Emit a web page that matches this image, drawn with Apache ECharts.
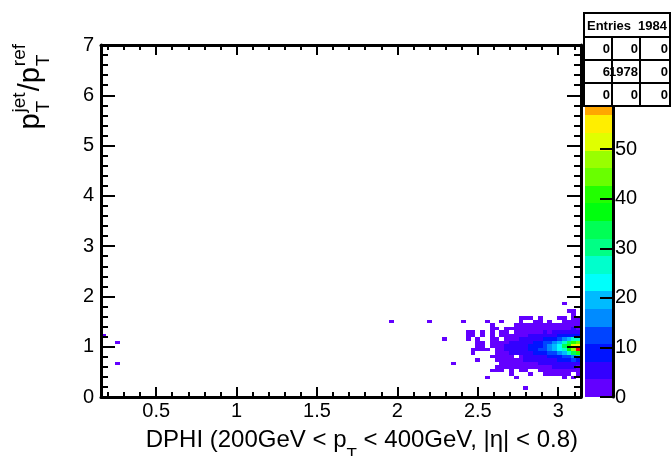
<!DOCTYPE html>
<html><head><meta charset="utf-8">
<script src="https://cdn.jsdelivr.net/npm/echarts@6/dist/echarts.min.js"></script>
<style>html,body{margin:0;padding:0;background:#fff}#c{width:672px;height:456px}</style>
</head><body><div id="c"></div>
<script>
// ---- histogram binning ----
const xMin = 0.157, xMax = 3.1416, nBinsX = 100;
const yMin = 0, yMax = 7, nBinsY = 100;
const zMax = 71, nContours = 20;
// ---- bin contents: rows of counts for x-bins 73..99, keyed by y-bin ----
const firstCol = 73;
const countRows = [
  [26, [0,0,0,0,0,0,0,0,0,0,0,0,0,0,0,0,0,0,0,0,0,0,0,1,0,0,0]],
  [24, [0,0,0,0,0,0,0,0,0,0,0,0,0,0,0,0,0,0,0,0,0,0,0,0,1,1,0]],
  [23, [0,0,0,0,0,0,0,0,0,0,0,0,0,0,0,0,0,0,0,0,0,0,0,0,0,1,0]],
  [22, [0,0,0,0,0,0,0,0,0,0,0,0,0,0,1,1,1,0,1,0,0,0,1,1,0,1,1]],
  [21, [0,0,1,0,0,0,0,1,0,0,1,0,0,0,1,0,0,1,1,0,1,0,0,1,1,2,1]],
  [20, [0,0,0,0,0,0,0,0,1,0,0,0,0,1,1,1,2,1,1,1,2,1,1,1,2,1,2]],
  [19, [0,0,0,0,0,0,0,0,1,1,0,1,1,2,1,2,1,3,2,2,3,2,3,2,3,4,3]],
  [18, [0,0,0,1,1,0,1,0,1,0,1,1,0,1,2,3,2,3,3,4,3,5,4,5,6,5,4]],
  [17, [0,0,0,1,1,0,1,0,1,0,1,2,1,3,2,3,4,4,5,5,6,7,8,8,9,10,8]],
  [16, [0,0,0,1,0,1,0,0,1,1,0,2,3,3,4,4,5,6,6,8,9,10,13,16,20,26,28]],
  [15, [0,0,0,0,0,1,1,0,1,2,2,3,4,4,5,6,7,8,9,11,13,16,20,26,34,42,44]],
  [14, [0,0,0,0,0,1,1,0,2,2,3,4,5,5,6,7,8,9,10,13,16,20,24,32,42,50,54]],
  [13, [0,0,0,0,1,1,1,1,0,2,3,4,4,6,6,7,8,9,11,13,16,18,22,28,38,48,71]],
  [12, [0,0,0,0,1,0,0,0,0,1,2,3,4,4,5,6,7,8,9,10,12,14,16,20,26,32,40]],
  [11, [0,0,0,0,0,0,0,0,1,1,1,2,2,0,3,4,5,5,6,7,8,9,10,12,14,16,18]],
  [10, [0,0,0,0,0,1,0,0,0,1,2,2,3,3,3,4,4,5,5,6,6,7,8,9,10,11,10]],
  [9,  [1,0,0,0,0,0,0,0,0,0,1,1,2,2,2,3,3,3,4,4,5,5,6,6,7,6,6]],
  [8,  [0,0,0,0,0,0,0,0,0,1,1,1,1,1,2,2,2,3,3,3,3,4,4,4,4,4,3]],
  [7,  [0,0,0,0,0,0,0,0,1,1,1,0,1,0,1,1,0,0,1,2,2,2,2,2,2,3,2]],
  [6,  [0,0,0,0,0,0,0,0,0,0,0,0,1,0,0,0,1,0,0,1,1,1,1,1,1,0,1]],
  [5,  [0,0,0,0,0,0,0,1,0,0,0,0,0,1,0,0,0,0,0,0,0,0,0,1,0,1,0]],
  [2,  [0,0,0,0,0,0,0,0,0,0,0,0,0,0,0,1,0,0,0,0,0,0,0,0,0,0,0]]
];
// isolated bins [xBin, yBin, count]
const isolatedBins = [[0,17,1],[3,15,1],[3,9,1],[60,21,1],[68,21,1],[71,16,1]];
// ---- palette (ROOT pretty palette, 20 contours) ----
const paletteColors = ['#6300ff','#3300ff','#0014ff','#0044ff','#008bff','#00bbff','#00fffb','#00ffcc','#00ff85','#00ff55',
  '#00ff0e','#22ff00','#69ff00','#99ff00','#e0ff00','#ffee00','#ffa700','#ff7700','#ff3000','#ff0000'];
// ---- stats box ----
const statsHeader = ['Entries', '1984'];
const statsRows = [['0','0','0'],['6','1978','0'],['0','0','0']];

const FONT = "'Liberation Sans', Arial, Helvetica, sans-serif";
const dx = (xMax - xMin) / nBinsX, dy = (yMax - yMin) / nBinsY, dz = zMax / nContours;

const cellData = [];
countRows.forEach(([iy, vals]) => vals.forEach((n, k) => {
  if (n > 0) cellData.push([xMin + (firstCol + k) * dx, yMin + iy * dy, n]);
}));
isolatedBins.forEach(([ix, iy, n]) => cellData.push([xMin + ix * dx, yMin + iy * dy, n]));

const paletteData = paletteColors.map((c, i) => [0, i * dz, i]);

const pieces = paletteColors.map((c, i) => i < nContours - 1
  ? { gte: i * dz, lt: (i + 1) * dz, color: c }
  : { gte: i * dz, color: c });

function cellItem(params, api) {
  const x0 = api.value(0), y0 = api.value(1);
  const a = api.coord([x0, y0]), b = api.coord([x0 + dx, y0 + dy]);
  const L = Math.round(a[0]), R = Math.round(b[0]), B = Math.round(a[1]), T = Math.round(b[1]);
  return { type: 'rect', shape: { x: L, y: T, width: R - L, height: B - T },
    style: { fill: api.visual('color') } };
}
function paletteItem(params, api) {
  const z0 = api.value(1), i = api.value(2);
  const a = api.coord([0, z0]), b = api.coord([1, z0 + dz]);
  const L = Math.round(a[0]), R = Math.round(b[0]), B = Math.round(a[1]), T = Math.round(b[1]);
  return { type: 'rect', shape: { x: L, y: T, width: R - L, height: B - T },
    style: { fill: paletteColors[i] } };
}

const black = '#000';
const lbl = { color: black, fontSize: 20, fontFamily: FONT };
function halfFmt(v) { return Math.abs(v * 2 - Math.round(v * 2)) < 1e-6 ? String(+v.toFixed(1)) : ''; }

const mctx = document.createElement('canvas').getContext('2d');
function tw(s, size) { mctx.font = size + 'px ' + FONT; return mctx.measureText(s).width; }
function txt(x, base, s, size, extra) {
  return Object.assign({ type: 'text', x: x, y: base - 0.81 * size,
    style: { text: s, font: size + 'px ' + FONT, fill: black, verticalAlign: 'top', align: 'left' } }, extra || {});
}

// x title
const xtS = 24, xtSub = 17;
const xt1 = 'DPHI (200GeV < p', xt2 = 'T', xt3 = ' < 400GeV, |η| < 0.8)';
const xtW = tw(xt1, xtS) + tw(xt2, xtSub) + tw(xt3, xtS);
const xtRight = 578, xtBase = 448;
const xtX1 = xtRight - xtW, xtX2 = xtX1 + tw(xt1, xtS), xtX3 = xtX2 + tw(xt2, xtSub);

// y title: p_T^jet / p_T^ref rotated
const ytS = 29, ytSc = 19;
const yParts = [];
let ytLen = 0;
(function () {
  let x = 0;
  function main(s) { yParts.push(txt(x, 0, s, ytS)); x += tw(s, ytS); }
  function scripts(sub, sup) {
    yParts.push(txt(x + 1, 10, sub, ytSc));
    yParts.push(txt(x + 1, -14, sup, ytSc));
    x += Math.max(tw(sub, ytSc), tw(sup, ytSc)) + 2;
  }
  main('p'); scripts('T', 'jet'); main('/'); main('p'); scripts('T', 'ref');
  ytLen = x;
})();
const ytTop = 43, ytBaseX = 40;

// stats box
const sbX = [584, 612, 640, 670], sbY = [13, 37, 60, 83, 106];
const statsEls = [];
statsEls.push({ type: 'rect', z: 100, shape: { x: sbX[0], y: sbY[0], width: sbX[3] - sbX[0], height: sbY[4] - sbY[0] }, style: { fill: '#fff', stroke: black, lineWidth: 2 } });
for (let r = 1; r < 4; r++) statsEls.push({ type: 'line', z: 101, shape: { x1: sbX[0], y1: sbY[r], x2: sbX[3], y2: sbY[r] }, style: { stroke: black, lineWidth: 2 } });
for (let c = 1; c < 3; c++) statsEls.push({ type: 'line', z: 101, shape: { x1: sbX[c], y1: sbY[1], x2: sbX[c], y2: sbY[4] }, style: { stroke: black, lineWidth: 2 } });
const sbFont = 'bold 13px ' + FONT;
statsEls.push({ type: 'text', z: 102, x: sbX[0] + 3, y: (sbY[0] + sbY[1]) / 2 + 1, style: { text: statsHeader[0], font: sbFont, fill: black, verticalAlign: 'middle' } });
statsEls.push({ type: 'text', z: 102, x: sbX[3] - 3, y: (sbY[0] + sbY[1]) / 2 + 1, style: { text: statsHeader[1], font: sbFont, fill: black, align: 'right', verticalAlign: 'middle' } });
statsRows.forEach((row, r) => row.forEach((s, c) => {
  statsEls.push({ type: 'text', z: 102, x: sbX[c + 1] - 2, y: (sbY[r + 1] + sbY[r + 2]) / 2 + 1, style: { text: s, font: sbFont, fill: black, align: 'right', verticalAlign: 'middle' } });
}));

const frameLine = { show: true, onZero: false, lineStyle: { color: black, width: 3 } };

const option = {
  animation: false,
  backgroundColor: '#fff',
  grid: [
    { left: 101, top: 45, width: 480, height: 352 },
    { left: 585, top: 45, width: 28, height: 352 }
  ],
  visualMap: { type: 'piecewise', show: false, seriesIndex: 0, dimension: 2, pieces: pieces },
  xAxis: [
    { gridIndex: 0, type: 'value', min: xMin, max: xMax, position: 'bottom', z: 10,
      axisLine: frameLine, splitLine: { show: false },
      axisTick: { inside: true, length: 10, lineStyle: { color: black, width: 2 } },
      minorTick: { show: true, splitNumber: 5, length: 5, lineStyle: { color: black, width: 2 } },
      axisLabel: Object.assign({ margin: 4, formatter: halfFmt }, lbl) },
    { gridIndex: 0, type: 'value', min: xMin, max: xMax, position: 'top', z: 10,
      axisLine: frameLine, splitLine: { show: false },
      axisTick: { inside: true, length: 10, lineStyle: { color: black, width: 2 } },
      minorTick: { show: true, splitNumber: 5, length: 5, lineStyle: { color: black, width: 2 } },
      axisLabel: { show: false } },
    { gridIndex: 1, type: 'value', min: 0, max: 1, show: false, axisLine: { onZero: false } }
  ],
  yAxis: [
    { gridIndex: 0, type: 'value', min: yMin, max: yMax, interval: 1, position: 'left', z: 10,
      axisLine: frameLine, splitLine: { show: false },
      axisTick: { inside: true, length: 14, lineStyle: { color: black, width: 2 } },
      minorTick: { show: true, splitNumber: 5, length: 7, lineStyle: { color: black, width: 2 } },
      axisLabel: Object.assign({ margin: 7 }, lbl) },
    { gridIndex: 0, type: 'value', min: yMin, max: yMax, interval: 1, position: 'right', z: 10,
      axisLine: frameLine, splitLine: { show: false },
      axisTick: { inside: true, length: 14, lineStyle: { color: black, width: 2 } },
      minorTick: { show: true, splitNumber: 5, length: 7, lineStyle: { color: black, width: 2 } },
      axisLabel: { show: false } },
    { gridIndex: 1, type: 'value', min: 0, max: zMax, interval: 10, position: 'right', z: 10,
      axisLine: frameLine, splitLine: { show: false },
      axisTick: { inside: true, length: 13, lineStyle: { color: black, width: 2 } },
      axisLabel: Object.assign({ margin: 2, formatter: v => (v % 10 === 0 && v < 60) ? String(v) : '' }, lbl) }
  ],
  series: [
    { type: 'custom', name: 'hist', xAxisIndex: 0, yAxisIndex: 0, clip: true,
      renderItem: cellItem, encode: { x: 0, y: 1 }, data: cellData, silent: true },
    { type: 'custom', name: 'palette', xAxisIndex: 2, yAxisIndex: 2, clip: true,
      renderItem: paletteItem, encode: { x: 0, y: 1 }, data: paletteData, silent: true }
  ],
  graphic: {
    elements: statsEls.concat([
      txt(xtX1, xtBase, xt1, xtS, { z: 50 }),
      txt(xtX2, xtBase + 13, xt2, xtSub, { z: 50 }),
      txt(xtX3, xtBase, xt3, xtS, { z: 50 }),
      { type: 'group', z: 50, x: ytBaseX, y: ytTop + ytLen, rotation: Math.PI / 2, children: yParts }
    ])
  }
};
const chart = echarts.init(document.getElementById('c'));
chart.setOption(option);
</script>
</body></html>
